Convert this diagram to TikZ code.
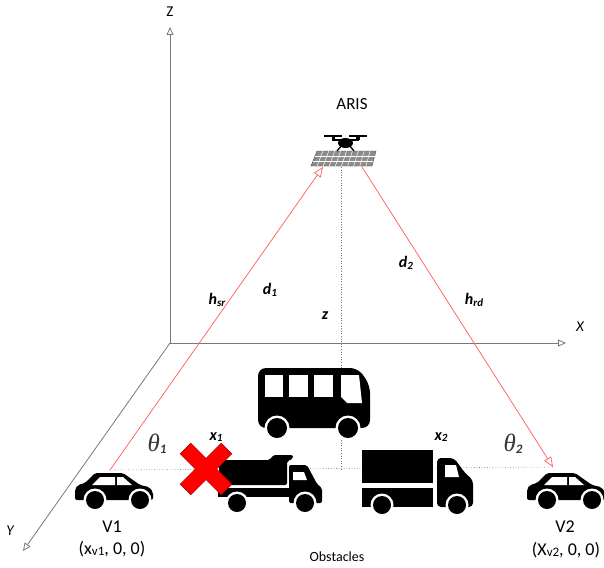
\documentclass[tikz,border=0pt]{standalone}
\usepackage{fontspec}
\setmainfont{Carlito}
\newfontfamily\anglefont{Liberation Serif}
\usetikzlibrary{arrows.meta, calc}
\definecolor{axisgray}{RGB}{120, 120, 120}
\definecolor{linkred}{RGB}{255, 90, 90}
\definecolor{crossred}{RGB}{255, 0, 0}
\definecolor{thetagray}{RGB}{55, 55, 55}
\definecolor{panelgray}{RGB}{140, 140, 140}
\newcommand{\lo}[2][11]{\raisebox{-1.5pt}{\fontsize{#1}{#1}\selectfont #2}}

\tikzset{
  % small car, origin at top left
  car/.pic={
    \fill[rounded corners=2pt] (0,17) -- (3,13) -- (10,11) -- (20,1) -- (48,1) -- (65,13) -- (74,15) -- (78,20) -- (78,28) -- (0,28) -- cycle;
    \fill[white] (17,13) -- (25,5) -- (40,5) -- (40,13) -- cycle;
    \fill[white] (42,5) -- (48,5) -- (57,13) -- (42,13) -- cycle;
    \foreach \wx in {20,65} {
      \fill[white] (\wx,28) circle (11.5pt);
      \fill (\wx,28) circle (9pt);
    }
  },
  % dump truck
  dumptruck/.pic={
    \fill[rounded corners=2pt] (0,5) -- (52,5) -- (55,0) -- (75,0) -- (75,4) -- (69,6) -- (69,30) -- (3,30) -- cycle;
    \fill (0,33) rectangle (72,42);
    \fill[rounded corners=2pt] (71,10) -- (89,10) -- (99,29) -- (104,33) -- (104,48) -- (71,48) -- cycle;
    \fill[white] (75,17) -- (86,17) -- (89,25) -- (75,25) -- cycle;
    \foreach \wx in {19,87} {
      \fill[white] (\wx,48) circle (11.5pt);
      \fill (\wx,48) circle (9pt);
    }
  },
  % bus
  bus/.pic={
    \fill[rounded corners=8pt] (0,1) -- (100,1) -- (112,18) -- (112,61) -- (0,61) -- cycle;
    \foreach \wl/\wr in {7/25, 31/50, 56/75}
      \fill[white] (\wl,8) rectangle (\wr,30);
    \fill[white] (83,8) -- (101,8) -- (104,36) -- (89,36) -- (83,30) -- cycle;
    \foreach \wx in {19,90} {
      \fill[white] (\wx,61) circle (12.5pt);
      \fill (\wx,61) circle (10pt);
    }
  },
  % box truck
  boxtruck/.pic={
    \fill (0,0) rectangle (71,33);
    \fill (0,38) rectangle (71,57);
    \fill[rounded corners=4pt] (75,8) -- (92,8) -- (103,23) -- (111,30) -- (111,57) -- (75,57) -- cycle;
    \fill[white] (83,15) -- (94,15) -- (97,27) -- (83,27) -- cycle;
    \foreach \wx in {20,95} {
      \fill[white] (\wx,55) circle (11.5pt);
      \fill (\wx,55) circle (9pt);
    }
  },
  % drone carrying the reflecting surface
  drone/.pic={
    \fill[panelgray, draw=black!70, line width=0.4pt] (-28,8) -- (31,8) -- (27,23) -- (-34,23) -- cycle;
    \foreach \i in {1,...,9}
      \draw[white, line width=0.5pt] ($(-28,8)!\i/10!(31,8)$) -- ($(-34,23)!\i/10!(27,23)$);
    \foreach \j in {1,2}
      \draw[white, line width=0.4pt] ($(-28,8)!\j/3!(-34,23)$) -- ($(31,8)!\j/3!(27,23)$);
    \fill (-21,-8) rectangle (-3,-6);
    \fill (4,-8) rectangle (22,-6);
    \fill (-13.5,-7) rectangle (-10,-3);
    \fill (11,-7) rectangle (14.5,-3);
    \draw[line width=2pt] (-13,-3) -- (14,-3);
    \fill (0.5,0) ellipse (7.5pt and 5pt);
    \draw[line width=1.3pt] (-3,2) -- (-8,8);
    \draw[line width=1.3pt] (4,2) -- (9,8);
  }
}

\begin{document}
\begin{tikzpicture}[x=1pt, y=-1pt,
  axis/.style={draw=axisgray, line width=0.8pt, -{Triangle[open, length=8pt, width=7pt]}},
  link/.style={draw=linkred, line width=0.7pt, -{Triangle[open, length=10pt, width=8pt]}},
  guide/.style={draw=axisgray, line width=0.6pt, dotted},
  lbl/.style={font=\fontsize{18}{20}\selectfont},
  varlbl/.style={font=\fontsize{16}{18}\selectfont\bfseries\itshape},
  anglbl/.style={text=thetagray, font=\fontsize{25}{27}\selectfont}]
  \useasboundingbox (0,0) rectangle (604,567);

  % axes
  \coordinate (O) at (170,343);
  \coordinate (ztip) at (170,27);
  \coordinate (xtip) at (566,343);
  \coordinate (ytip) at (23,551);
  \draw[axis] (O) -- (ztip);
  \draw[axis] (O) -- (xtip);
  \draw[axis] (O) -- (ytip);
  \node[font=\fontsize{15}{17}\selectfont] (zlbl) at (170,12) {Z};
  \node[font=\fontsize{15}{17}\selectfont\itshape] (xlbl) at (580,327) {X};
  \node[font=\fontsize{15}{17}\selectfont\itshape] (ylbl) at (10,531) {Y};

  % link end points
  \coordinate (v1top) at (110,470);
  \coordinate (v2top) at (553,467);
  \coordinate (arisL) at (323,167);
  \coordinate (arisR) at (362,167);
  \coordinate (arisC) at (341,167);
  \coordinate (foot) at (341,469);

  % guide lines
  \draw[guide] (v1top) -- (v2top);
  \draw[guide] (arisC) -- (foot);

  % links
  \draw[link] (v1top) -- (arisL);
  \draw[link] (arisR) -- (v2top);

  % ARIS
  \pic at (345,143) {drone};
  \node[lbl, font=\fontsize{17}{19}\selectfont] (arislbl) at (352,104) {ARIS};

  % vehicles
  \pic at (75,472) {car};
  \pic at (527,472) {car};
  \pic at (258,367) {bus};
  \pic at (218,455) {dumptruck};
  \pic at (362,450) {boxtruck};

  % blocked
  \begin{scope}[shift={(206,469)}, rotate=45]
    \fill[crossred, draw=red!60!black, line width=0.4pt] (-7.5,29) -- (7.5,29) -- (7.5,7.5) -- (29,7.5) -- (29,-7.5) -- (7.5,-7.5) -- (7.5,-29) -- (-7.5,-29) -- (-7.5,-7.5) -- (-29,-7.5) -- (-29,7.5) -- (-7.5,7.5) -- cycle;
  \end{scope}

  % labels
  \node[varlbl] (d1lbl) at (270,290) {d\lo{1}};
  \node[varlbl] (hsrlbl) at (217,300) {h\lo{sr}};
  \node[varlbl] (zlbl2) at (325,316) {z};
  \node[varlbl] (d2lbl) at (406,263) {d\lo{2}};
  \node[varlbl] (hrdlbl) at (474,300) {h\lo{rd}};
  \node[anglbl] (th1) at (157,444) {{\anglefont\itshape θ}\lo[13]{\bfseries\itshape 1}};
  \node[anglbl] (th2) at (513,444) {{\anglefont\itshape θ}\lo[13]{\bfseries\itshape 2}};
  \node[varlbl] (x1lbl) at (216,437) {x\lo{1}};
  \node[varlbl] (x2lbl) at (441,437) {x\lo{2}};
  \node[lbl] (v1lbl) at (112,527) {V1};
  \node[lbl] (v1pos) at (112,549) {(x\lo[13]{v1}, 0, 0)};
  \node[lbl] (v2lbl) at (565,527) {V2};
  \node[lbl] (v2pos) at (566,550) {(X\lo[13]{v2}, 0, 0)};
  \node[font=\fontsize{14}{16}\selectfont] (obst) at (337,557) {Obstacles};
\end{tikzpicture}
\end{document}
